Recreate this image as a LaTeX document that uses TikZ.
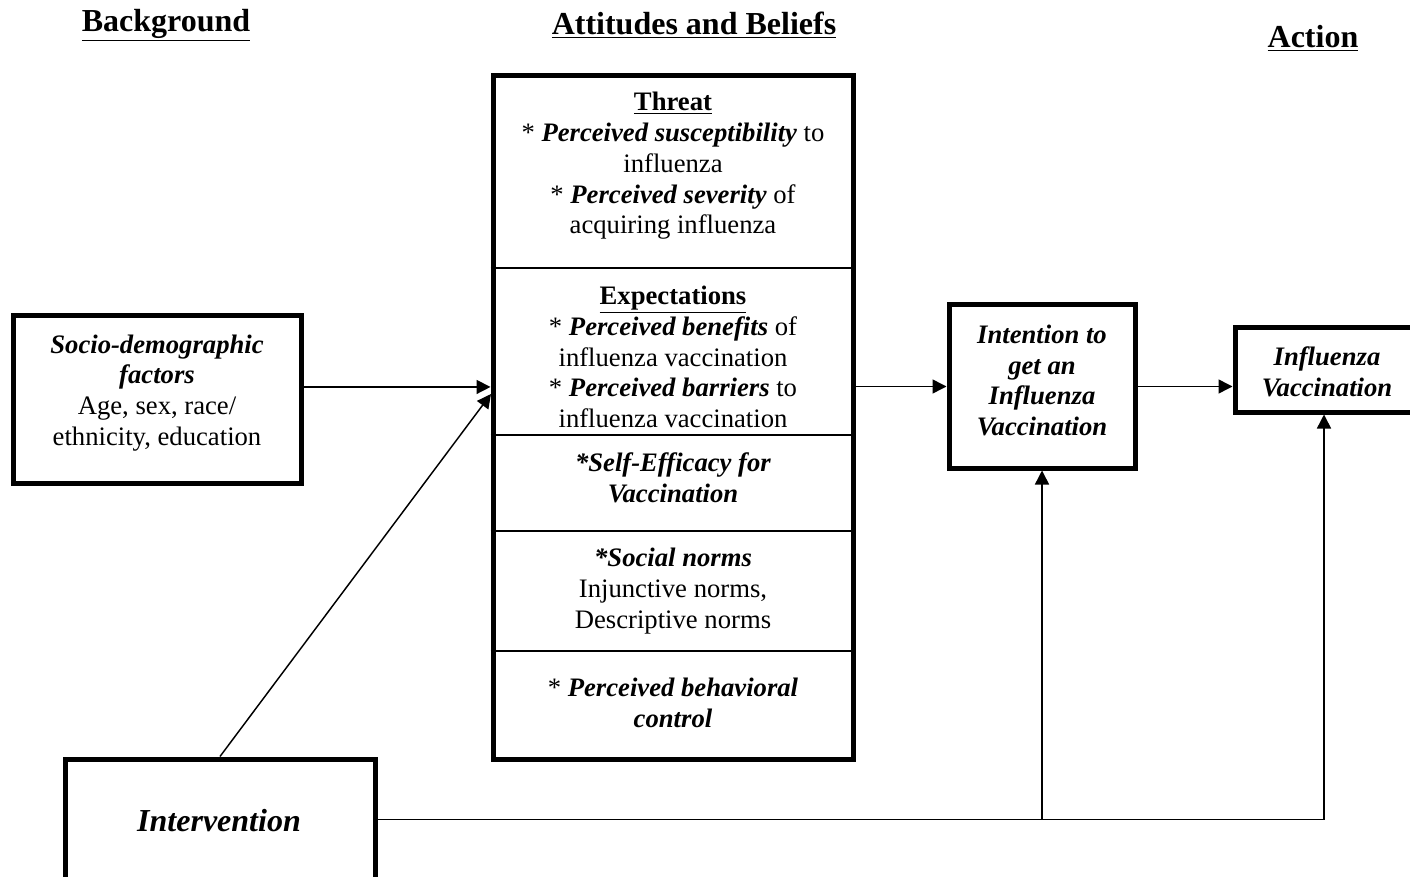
\documentclass[tikz,border=0pt]{standalone}
\usepackage{fontspec}
\setmainfont{Liberation Serif}
\usetikzlibrary{arrows.meta}
\newcommand{\fsz}{\fontsize{20}{23.1}\selectfont}
\newcommand{\bi}[1]{\textbf{\textit{#1}}}
\begin{document}
\begin{tikzpicture}[x=0.75pt,y=-0.75pt,
  boxx/.style={draw,line width=3.75pt,rectangle,inner sep=0pt},
  sz/.style 2 args={minimum width=#1*0.75pt,minimum height=#2*0.75pt},
  txt/.style={align=center,font=\fsz,inner sep=0pt},
  head/.style={font=\fontsize{24}{28}\selectfont\bfseries,inner sep=0pt},
  conn/.style={line width=1.1pt},
  arr/.style={conn,-{Triangle[length=10.5pt,width=10.5pt]}},
  divider/.style={line width=1.5pt}]
\useasboundingbox (0,0) rectangle (1410,877);
% headings
\node[head] (hbg) at (166,25) {\underline{Background}};
\node[head] (hab) at (694,25) {\underline{Attitudes and Beliefs}};
\node[head] (hac) at (1313,38) {\underline{Action}};
% boxes
\node[boxx,sz={288}{167}] (socio) at (157,399.5) {};
\node[boxx,sz={360}{683}] (big) at (673,417.5) {};
\node[boxx,sz={186}{163}] (intent) at (1042,386.5) {};
\node[boxx,sz={178}{84}] (influ) at (1324,370) {};
\node[boxx,sz={310}{121}] (interv) at (220,819.5) {};
% dividers
\foreach \yy in {268,435,531,651}{
  \draw[divider] (big.west |- 0,\yy) -- (big.east |- 0,\yy);
}
% texts
\node[txt] (tsocio) at (157,393) {\bi{Socio-demographic}\\ \bi{factors}\\ Age, sex, race/\\ ethnicity, education};
\node[txt] (tthreat) at (673,166) {\textbf{\underline{Threat}}\\ * \bi{Perceived susceptibility} to\\ influenza\\ * \bi{Perceived severity} of\\ acquiring influenza};
\node[txt] (texp) at (673,357) {\textbf{\underline{Expectations}}\\ * \bi{Perceived benefits} of\\ influenza vaccination\\ * \bi{Perceived barriers} to\\ influenza vaccination};
\node[txt] (tself) at (673,478) {\bi{*Self-Efficacy for}\\ \bi{Vaccination}};
\node[txt] (tsoc) at (673,591) {\bi{*Social norms}\\ Injunctive norms,\\ Descriptive norms};
\node[txt] (tpbc) at (673,702.5) {* \bi{Perceived behavioral}\\ \bi{control}};
\node[txt] (tint) at (1042,380.5) {\bi{Intention to}\\ \bi{get an}\\ \bi{Influenza}\\ \bi{Vaccination}};
\node[txt] (tinf) at (1327,372) {\bi{Influenza}\\ \bi{Vaccination}};
\node[txt,font=\fontsize{24}{28}\selectfont] (tiv) at (219,821) {\bi{Intervention}};
% connectors
\coordinate (tip) at (491,394);
\coordinate (sout) at ([yshift=9.4pt]socio.east);
\draw[arr] (sout) -- (sout -| big.west);
\draw[arr] (interv.north) -- (tip);
\draw[arr] (intent.west -| big.east) -- (intent.west);
\draw[arr] (intent.east) -- (intent.east -| influ.west);
\draw[conn] (interv.east) -- (influ.south |- interv.east);
\draw[arr] (influ.south |- interv.east) -- (influ.south);
\draw[arr] (intent.south |- interv.east) -- (intent.south);
\end{tikzpicture}
\end{document}
